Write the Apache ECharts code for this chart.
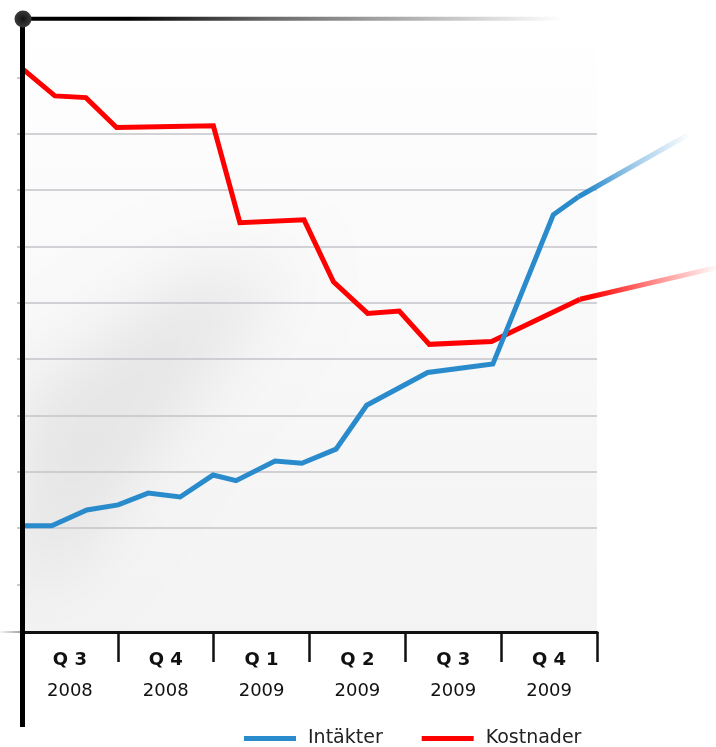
<!DOCTYPE html>
<html>
<head>
<meta charset="utf-8">
<script src="https://cdn.jsdelivr.net/npm/echarts@6/dist/echarts.min.js"></script>
<style>
html,body{margin:0;padding:0;background:#fff;}
#chart{width:716px;height:747px;}
</style>
</head>
<body>
<div id="chart"></div>
<script>
// Quarter labels
var quarters = ['Q 3', 'Q 4', 'Q 1', 'Q 2', 'Q 3', 'Q 4'];
var years = ['2008', '2008', '2009', '2009', '2009', '2009'];

// x = months since start of Q3 2008, y = value in grid units
var intakterX = [0, 0.93, 2.03, 3.01, 3.95, 4.95, 5.98, 6.70, 7.92, 8.76, 9.83, 10.79, 12.70, 14.74, 16.63, 17.42];
var intakterY = [2.04, 2.04, 2.32, 2.41, 2.62, 2.55, 2.94, 2.84, 3.19, 3.15, 3.40, 4.18, 4.76, 4.91, 7.56, 7.88];
var intakterTailX = [17.42, 20.85];
var intakterTailY = [7.88, 8.98];

var kostnaderX = [0, 1.03, 2.00, 2.96, 5.99, 6.82, 8.83, 9.75, 10.82, 11.81, 12.75, 14.70, 17.47];
var kostnaderY = [10.16, 9.67, 9.64, 9.11, 9.14, 7.42, 7.47, 6.37, 5.81, 5.85, 5.26, 5.31, 6.06];
var kostnaderTailX = [17.47, 21.73];
var kostnaderTailY = [6.06, 6.62];

function pairs(xs, ys) { return xs.map(function (x, i) { return [x, ys[i]]; }); }

var BLUE = '#2a8bcc';
var RED = '#ff0000';
var FONT = 'DejaVu Sans';
var OFF = 3000;

var chart = echarts.init(document.getElementById('chart'));
chart.setOption({
  backgroundColor: '#ffffff',
  animation: false,
  grid: [
    { left: 22, right: 119, top: 21, bottom: 106.33, containLabel: false },
    { left: 22, right: 0, top: 21, bottom: 106.33, containLabel: false }
  ],
  xAxis: [
    {
      gridIndex: 0, type: 'category', position: 'bottom', offset: -8.67, data: quarters,
      boundaryGap: true,
      axisLine: { show: true, lineStyle: { color: '#111', width: 3 } },
      axisTick: { show: true, length: 30, lineStyle: { color: '#111', width: 2.5 } },
      axisLabel: {
        margin: 13,
        formatter: function (v, i) { return '{q|' + v + '}\n{y|' + years[i] + '}'; },
        rich: {
          q: { fontFamily: FONT, fontWeight: 'bold', fontSize: 18, color: '#111', lineHeight: 31 },
          y: { fontFamily: FONT, fontSize: 18, color: '#111', lineHeight: 31 }
        }
      },
      splitLine: { show: false }
    },
    { gridIndex: 1, type: 'value', min: 0, max: 21.725, show: false }
  ],
  yAxis: [
    {
      gridIndex: 0, type: 'value', min: 0, max: 11, interval: 1,
      axisLine: { show: false },
      axisLabel: { show: false },
      axisTick: { show: true, length: 5, customValues: [1,2,3,4,5,6,7,8,9,10], lineStyle: { color: '#bbb', width: 1.5 } },
      splitLine: { show: true, showMinLine: false, showMaxLine: false, lineStyle: { color: '#c4c4ca', width: 1.5 } }
    },
    { gridIndex: 1, type: 'value', min: 0, max: 11, interval: 1, show: false }
  ],
  legend: {
    left: 244, top: 729, padding: 0,
    icon: 'rect', itemWidth: 52, itemHeight: 5, itemGap: 39,
    textStyle: { fontFamily: FONT, fontSize: 19, color: '#222', padding: [0, 0, 0, 7] },
    data: [
      { name: 'Intäkter', itemStyle: { color: BLUE } },
      { name: 'Kostnader', itemStyle: { color: RED } }
    ]
  },
  graphic: [
    {
      type: 'rect', z: -10, silent: true,
      shape: { x: 22, y: 21, width: 575, height: 611 },
      style: {
        fill: new echarts.graphic.LinearGradient(0, 0, 0, 1, [
          { offset: 0, color: 'rgba(255,255,255,1)' },
          { offset: 0.3, color: 'rgba(251,251,251,1)' },
          { offset: 1, color: 'rgba(243,243,243,1)' }
        ])
      }
    },
    {
      // soft diagonal shade (blurred shadow of an off-screen shape)
      type: 'polygon', z: -9, silent: true,
      shape: { points: [[22 - OFF, 400], [190 - OFF, 270], [290 - OFF, 270], [70 - OFF, 560], [22 - OFF, 600]] },
      style: { fill: '#000', shadowBlur: 70, shadowColor: 'rgba(0,0,0,0.07)', shadowOffsetX: OFF }
    },
    {
      type: 'rect', z: -8, silent: true,
      shape: { x: 0, y: 0, width: 21, height: 747 },
      style: { fill: '#fff' }
    },
    {
      type: 'rect', z: -8, silent: true,
      shape: { x: 0, y: 633, width: 716, height: 114 },
      style: { fill: '#fff' }
    },
    {
      type: 'line', z: 50, silent: true,
      shape: { x1: 0, y1: 632, x2: 22, y2: 632 },
      style: { lineWidth: 2, stroke: new echarts.graphic.LinearGradient(0, 0, 1, 0, [
        { offset: 0, color: 'rgba(120,120,120,0)' }, { offset: 1, color: 'rgba(120,120,120,0.8)' }
      ]) }
    },
    {
      type: 'line', z: 50, silent: true,
      shape: { x1: 22, y1: 18.7, x2: 560, y2: 18.7 },
      style: { lineWidth: 4, stroke: new echarts.graphic.LinearGradient(0, 0, 1, 0, [
        { offset: 0, color: '#000' }, { offset: 0.2, color: '#000' },
        { offset: 0.45, color: 'rgba(0,0,0,0.6)' }, { offset: 1, color: 'rgba(0,0,0,0)' }
      ]) }
    },
    {
      type: 'line', z: 50, silent: true,
      shape: { x1: 22.5, y1: 18, x2: 22.5, y2: 727 },
      style: { lineWidth: 5, stroke: '#000' }
    },
    {
      type: 'circle', z: 51, silent: true,
      shape: { cx: 23, cy: 19, r: 8.5 },
      style: { fill: new echarts.graphic.RadialGradient(0.5, 0.5, 0.5, [
        { offset: 0, color: '#111' }, { offset: 0.35, color: '#222' }, { offset: 1, color: '#3a3a3a' }
      ]) }
    }
  ],
  series: [
    {
      name: 'Kostnader', type: 'line', xAxisIndex: 1, yAxisIndex: 1, data: pairs(kostnaderX, kostnaderY),
      showSymbol: false, clip: false, z: 3,
      itemStyle: { color: RED },
      lineStyle: { color: RED, width: 5, join: 'miter' }
    },
    {
      name: 'KostnaderTail', type: 'line', xAxisIndex: 1, yAxisIndex: 1, data: pairs(kostnaderTailX, kostnaderTailY),
      showSymbol: false, clip: false, z: 3,
      lineStyle: { width: 5, cap: 'butt', color: new echarts.graphic.LinearGradient(0, 0, 1, 0, [
        { offset: 0, color: 'rgba(255,0,0,1)' }, { offset: 0.1, color: 'rgba(255,0,0,1)' },
        { offset: 0.5, color: 'rgba(255,0,0,0.5)' }, { offset: 1, color: 'rgba(255,0,0,0)' }
      ]) }
    },
    {
      name: 'Intäkter', type: 'line', xAxisIndex: 1, yAxisIndex: 1, data: pairs(intakterX, intakterY),
      showSymbol: false, clip: false, z: 4,
      itemStyle: { color: BLUE },
      lineStyle: { color: BLUE, width: 5, join: 'miter' }
    },
    {
      name: 'IntakterTail', type: 'line', xAxisIndex: 1, yAxisIndex: 1, data: pairs(intakterTailX, intakterTailY),
      showSymbol: false, clip: false, z: 4,
      lineStyle: { width: 5, cap: 'butt', color: new echarts.graphic.LinearGradient(0, 0, 1, 0, [
        { offset: 0, color: 'rgba(42,139,204,1)' }, { offset: 0.1, color: 'rgba(42,139,204,1)' },
        { offset: 0.5, color: 'rgba(42,139,204,0.45)' }, { offset: 1, color: 'rgba(42,139,204,0)' }
      ]) }
    }
  ]
});
</script>
</body>
</html>
